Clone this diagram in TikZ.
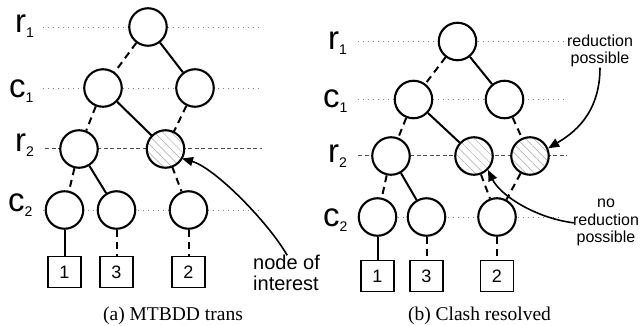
\documentclass[tikz,border=0pt]{standalone}
\usepackage{fontspec}
\setmainfont{Liberation Serif}
\newfontfamily\labfont{Liberation Sans}
\usetikzlibrary{arrows.meta,patterns.meta}
\pgfdeclarelayer{bg}
\pgfsetlayers{bg,main}

% variable name with a lowered index, e.g. r_1
\newcommand\rowvar[2]{{\fontsize{33}{33}\selectfont #1}\raisebox{-5pt}{\fontsize{14}{14}\selectfont #2}}
% short annotation set as a small paragraph (first baseline on the node's base)
\newcommand\notetext[5]{\parbox[t]{#1}{#2\fontsize{#3}{#4}\selectfont #5}}

\tikzset{
  bddnode/.style={circle, draw, line width=2.1pt, fill=white, minimum size=37.5pt, inner sep=0pt},
  hatched/.style={bddnode, preaction={fill=white},
    pattern={Lines[angle=-45,distance=6pt,line width=0.5pt]}, pattern color=gray!70},
  leaf/.style={draw, line width=1.9pt, fill=white, minimum width=33pt, minimum height=31pt,
    inner sep=0pt, font=\labfont\fontsize{18}{18}\selectfont},
  hi/.style={line width=2pt},
  lo/.style={line width=2pt, dash pattern=on 7pt off 5pt},
  rowline/.style={gray, line width=0.9pt, dash pattern=on 1pt off 4pt},
  rowdash/.style={gray!60!black, line width=1pt, dash pattern=on 4pt off 2.5pt},
  varlabel/.style={anchor=base west, inner sep=0pt, font=\labfont},
  note/.style={inner sep=0pt, font=\labfont},
  pointer/.style={line width=1.6pt, -{Triangle[length=11pt,width=9pt]}},
  caption/.style={anchor=base, inner sep=0pt, font=\fontsize{19.5}{19.5}\selectfont},
}

\begin{document}
\begin{tikzpicture}[x=1pt,y=-1pt]
\useasboundingbox (0,0) rectangle (641,326);

% ---------- (a) MTBDD trans ----------
\node[varlabel] (ar1) at (15,33)  {\rowvar{r}{1}};
\node[varlabel] (ac1) at (9,98)   {\rowvar{c}{1}};
\node[varlabel] (ar2) at (15,152) {\rowvar{r}{2}};
\node[varlabel] (ac2) at (8,212)  {\rowvar{c}{2}};

\node[bddnode] (a1) at (148,27) {};
\node[bddnode] (a2) at (103,88) {};
\node[bddnode] (a3) at (195,88) {};
\node[bddnode] (a4) at (79,149) {};
\node[hatched] (a5) at (165.5,149) {};
\node[bddnode] (a6) at (64.5,210) {};
\node[bddnode] (a7) at (116.5,210) {};
\node[bddnode] (a8) at (188.5,210) {};
\node[leaf] (a9)  at (64.5,272) {1};
\node[leaf] (a10) at (116.5,272) {3};
\node[leaf] (a11) at (188.5,272) {2};

\begin{pgfonlayer}{bg}
  \draw[rowline] (43,27) -- (260,27);
  \draw[rowline] (43,88) -- (260,88);
  \draw[rowdash] (45,149) -- (262,149);
  \draw[rowline] (43,210) -- (260,210);
  \draw[lo] (a1) -- (a2);
  \draw[hi] (a1) -- (a3);
  \draw[lo] (a2) -- (a4);
  \draw[hi] (a2) -- (a5);
  \draw[lo] (a3) -- (a5);
  \draw[lo] (a4) -- (a6);
  \draw[hi] (a4) -- (a7);
  \draw[lo] (a5) -- (a8);
  \draw[hi] (a6) -- (a9);
  \draw[lo] (a7) -- (a10);
  \draw[lo] (a8) -- (a11);
\end{pgfonlayer}

\node[note, anchor=base west] (noi) at (253,270)
  {\notetext{68pt}{\raggedright}{20}{20.5}{node of\\interest}};
\draw[pointer] (noi.north) .. controls (268,222) and (215,168) .. (a5.-30);

\node[caption] (capa) at (173,320) {(a) MTBDD trans};

% ---------- (b) Clash resolved ----------
\node[varlabel] (br1) at (328,50)  {\rowvar{r}{1}};
\node[varlabel] (bc1) at (323,108) {\rowvar{c}{1}};
\node[varlabel] (br2) at (328,163) {\rowvar{r}{2}};
\node[varlabel] (bc2) at (323,227) {\rowvar{c}{2}};

\node[bddnode] (b1) at (457.5,41.5) {};
\node[bddnode] (b2) at (413.5,99.5) {};
\node[bddnode] (b3) at (504.5,99.5) {};
\node[bddnode] (b4) at (391,156) {};
\node[hatched] (b5) at (474,156) {};
\node[hatched] (b6) at (530,156) {};
\node[bddnode] (b7) at (377.5,217) {};
\node[bddnode] (b8) at (426.5,217) {};
\node[bddnode] (b9) at (497,217) {};
\node[leaf] (b10) at (377.5,276) {1};
\node[leaf] (b11) at (426.5,276) {3};
\node[leaf] (b12) at (497,276) {2};

\begin{pgfonlayer}{bg}
  \draw[rowline] (358,41.5) -- (565,41.5);
  \draw[rowline] (358,99.5) -- (565,99.5);
  \draw[rowdash] (358,156) -- (567,156);
  \draw[rowline] (358,217) -- (563,217);
  \draw[lo] (b1) -- (b2);
  \draw[hi] (b1) -- (b3);
  \draw[lo] (b2) -- (b4);
  \draw[hi] (b2) -- (b5);
  \draw[lo] (b3) -- (b6);
  \draw[lo] (b4) -- (b7);
  \draw[hi] (b4) -- (b8);
  \draw[lo] (b5) -- (b9);
  \draw[lo] (b6) -- (b9);
  \draw[hi] (b7) -- (b10);
  \draw[lo] (b8) -- (b11);
  \draw[lo] (b9) -- (b12);
\end{pgfonlayer}

\node[note, anchor=base] (red) at (600,47)
  {\notetext{76pt}{\centering}{16}{17}{reduction\\possible}};
\node[note, anchor=base] (nored) at (606,208)
  {\notetext{76pt}{\centering}{16}{17.5}{no\\reduction\\possible}};
\draw[pointer] (red.south) .. controls (600,115) and (572,134) .. (b6.23);
\draw[pointer] ([xshift=6pt]nored.west) .. controls (535,218) and (500,195) .. (b5.-45);

\node[caption] (capb) at (479.5,320) {(b) Clash resolved};
\end{tikzpicture}
\end{document}
